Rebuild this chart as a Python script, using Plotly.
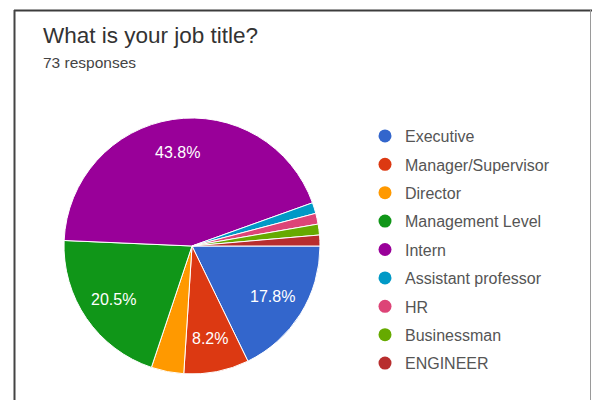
import math
import plotly.graph_objects as go

# Survey answers: "What is your job title?" (73 responses)
categories = ["Executive", "Manager/Supervisor", "Director", "Management Level",
              "Intern", "Assistant professor", "HR", "Businessman", "ENGINEER"]
counts = [13, 6, 3, 15, 32, 1, 1, 1, 1]
colors = ["#3366cc", "#dc3912", "#ff9900", "#109618", "#990099",
          "#0099c6", "#dd4477", "#66aa00", "#b82e2e"]

W, H = 592, 400
# pie box in pixels (left, right, top, bottom)
PIE_L, PIE_R, PIE_T, PIE_B = 64, 320, 118, 374
START_DEG = 90          # first slice starts at 3 o'clock, going clockwise
LABEL_FRAC = 0.74       # radial position of the percentage labels
MIN_LABEL_SHARE = 0.05  # smaller slices get no label

total = sum(counts)

fig = go.Figure()

fig.add_trace(go.Pie(
    labels=categories,
    values=counts,
    sort=False,
    direction="clockwise",
    rotation=START_DEG,
    marker=dict(colors=colors, line=dict(color="white", width=1)),
    textinfo="none",
    showlegend=False,
    hoverinfo="label+value+percent",
    domain=dict(x=[PIE_L / W, PIE_R / W], y=[1 - PIE_B / H, 1 - PIE_T / H]),
))

# percentage labels placed at each slice's mid-angle
cx, cy = (PIE_L + PIE_R) / 2, (PIE_T + PIE_B) / 2
radius = (PIE_R - PIE_L) / 2
annotations = []
acc = 0
for c in counts:
    share = c / total
    mid = math.radians(START_DEG + 360 * (acc + c / 2) / total)
    acc += c
    if share < MIN_LABEL_SHARE:
        continue
    px = cx + LABEL_FRAC * radius * math.sin(mid)
    py = cy - LABEL_FRAC * radius * math.cos(mid)
    annotations.append(dict(
        text=f"{share * 100:.1f}%", x=px / W, y=1 - py / H,
        xref="paper", yref="paper", xanchor="center", yanchor="middle",
        showarrow=False,
        font=dict(family="Arial, Liberation Sans", size=16, color="white"),
    ))

# circular legend markers, one per category
for name, col in zip(categories, colors):
    fig.add_trace(go.Scatter(
        x=[None], y=[None], mode="markers", name=name,
        legendgroup=name,
        marker=dict(color=col, size=13, symbol="circle"),
        showlegend=True,
    ))

annotations += [
    dict(text="What is your job title?", x=41 / W, y=1 - 36 / H,
         xref="paper", yref="paper", xanchor="left", yanchor="middle",
         showarrow=False,
         font=dict(family="Arial, Liberation Sans", size=22.5, color="#333333")),
    dict(text="73 responses", x=41 / W, y=1 - 62 / H,
         xref="paper", yref="paper", xanchor="left", yanchor="middle",
         showarrow=False,
         font=dict(family="Arial, Liberation Sans", size=15.5, color="#444444")),
]

fig.update_layout(
    width=W, height=H,
    margin=dict(l=0, r=0, t=0, b=0),
    paper_bgcolor="white", plot_bgcolor="white",
    xaxis=dict(visible=False), yaxis=dict(visible=False),
    legend=dict(
        x=365 / W, y=1 - 119 / H, xanchor="left", yanchor="top",
        font=dict(family="Arial, Liberation Sans", size=16, color="#555555"),
        tracegroupgap=4.6, bgcolor="rgba(0,0,0,0)",
        itemclick=False, itemdoubleclick=False,
    ),
    annotations=annotations,
    shapes=[
        dict(type="line", xref="paper", yref="paper",
             x0=14 / W, x1=1, y0=1 - 10.5 / H, y1=1 - 10.5 / H,
             line=dict(color="#3c3c3c", width=2)),
        dict(type="line", xref="paper", yref="paper",
             x0=14.5 / W, x1=14.5 / W, y0=0, y1=1 - 10 / H,
             line=dict(color="#444444", width=2)),
        dict(type="line", xref="paper", yref="paper",
             x0=590.5 / W, x1=590.5 / W, y0=0, y1=1 - 10 / H,
             line=dict(color="#9a9a9a", width=1)),
    ],
)

fig.write_html("out.html")
